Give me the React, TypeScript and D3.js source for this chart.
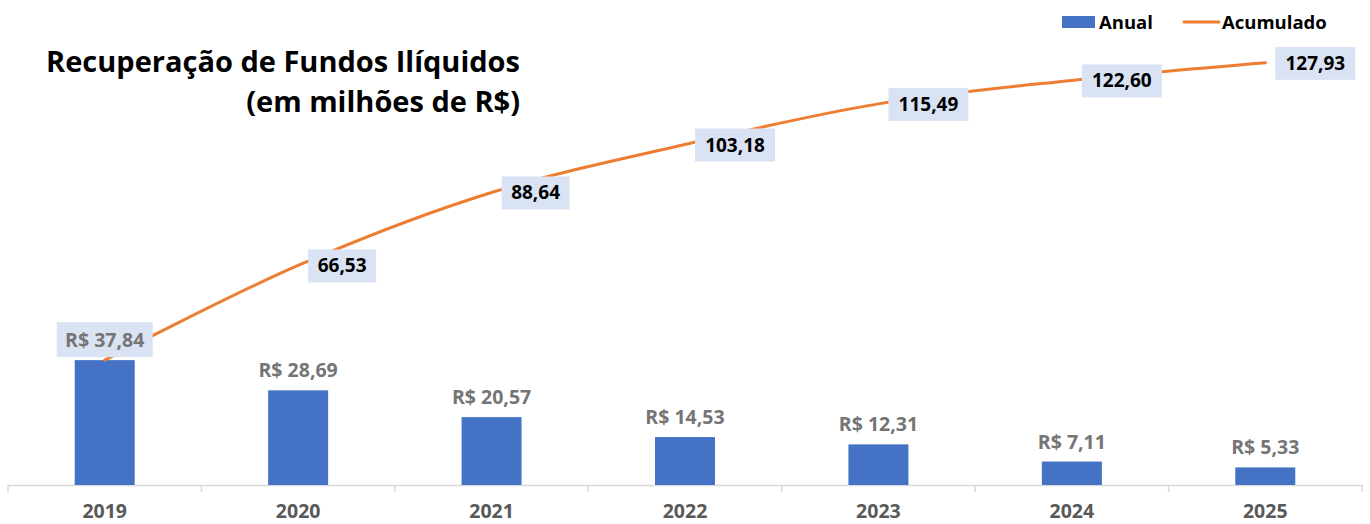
import React from "react";
import * as d3 from "d3";

const years = ["2019", "2020", "2021", "2022", "2023", "2024", "2025"];
const anual = [37.84, 28.69, 20.57, 14.53, 12.31, 7.11, 5.33];
const acumulado = [37.84, 66.53, 88.64, 103.18, 115.49, 122.6, 127.93];

const W = 1370;
const H = 524;
const FONT = "'Open Sans', 'Noto Sans', sans-serif";
const fmt = (v: number) => v.toFixed(2).replace(".", ",");

export default function App() {
  const x = d3.scaleBand<string>().domain(years).range([8, 1362]).paddingInner(0).paddingOuter(0);
  const y = d3.scaleLinear().domain([0, 100]).range([485, 155]);
  const bw = 60;
  const cx = (yr: string) => (x(yr) as number) + x.bandwidth() / 2;
  const line = d3
    .line<number>()
    .x((_, i) => cx(years[i]))
    .y((d) => y(d))
    .curve(d3.curveCatmullRom.alpha(0.5));

  return (
    <svg width={W} height={H} style={{ position: "absolute", left: 0, top: 0, background: "#fff" }} fontFamily={FONT}>
      {/* title */}
      <text x={520} y={72} textAnchor="end" fontSize={29} fontWeight={700} fill="#000">
        Recuperação de Fundos Ilíquidos
      </text>
      <text x={520} y={112} textAnchor="end" fontSize={29} fontWeight={700} fill="#000">
        (em milhões de R$)
      </text>

      {/* legend */}
      <rect x={1062} y={16} width={33} height={12} fill="#4472C4" />
      <text x={1099} y={29} fontSize={18.5} fontWeight={700} fill="#000">Anual</text>
      <line x1={1184} x2={1219} y1={22} y2={22} stroke="#ED7D31" strokeWidth={3} strokeLinecap="round" />
      <text x={1222} y={29} fontSize={18.5} fontWeight={700} fill="#000">Acumulado</text>

      {/* axis */}
      <line x1={8} x2={1362} y1={485.5} y2={485.5} stroke="#D9D9D9" strokeWidth={1.5} />
      {d3.range(years.length + 1).map((i) => {
        const xx = i < years.length ? (x(years[i]) as number) : 1362;
        return <line key={i} x1={xx} x2={xx} y1={485} y2={492} stroke="#D9D9D9" strokeWidth={1.5} />;
      })}
      {years.map((yr) => (
        <text key={yr} x={cx(yr)} y={518} textAnchor="middle" fontSize={19.5} fontWeight={700} fill="#595959">
          {yr}
        </text>
      ))}

      {/* bars */}
      {anual.map((v, i) => (
        <rect key={i} x={cx(years[i]) - bw / 2} y={y(v)} width={bw} height={485 - y(v)} fill="#4472C4" />
      ))}

      {/* line */}
      <path d={line(acumulado) || ""} fill="none" stroke="#ED7D31" strokeWidth={3} strokeLinecap="round" />

      {/* bar labels */}
      {anual.map((v, i) => {
        const tx = cx(years[i]);
        const ty = y(v) - 13;
        if (i === 0) {
          return (
            <g key={i}>
              <rect x={tx - 48} y={ty - 25} width={96} height={35} fill="#DAE3F3" />
              <text x={tx} y={ty} textAnchor="middle" fontSize={19.5} fontWeight={700} fill="#757575">
                R$ {fmt(v)}
              </text>
            </g>
          );
        }
        return (
          <text key={i} x={tx} y={ty} textAnchor="middle" fontSize={19.5} fontWeight={700} fill="#757575">
            R$ {fmt(v)}
          </text>
        );
      })}

      {/* line labels */}
      {acumulado.map((v, i) => {
        if (i === 0) return null;
        const px = cx(years[i]);
        const py = y(v);
        const label = fmt(v);
        const w = label.length > 5 ? 80 : 68;
        return (
          <g key={i}>
            <rect x={px + 10} y={py - 16} width={w} height={33} fill="#DAE3F3" />
            <text x={px + 10 + w / 2} y={py + 7} textAnchor="middle" fontSize={19} fontWeight={700} fill="#000">
              {label}
            </text>
          </g>
        );
      })}
    </svg>
  );
}
